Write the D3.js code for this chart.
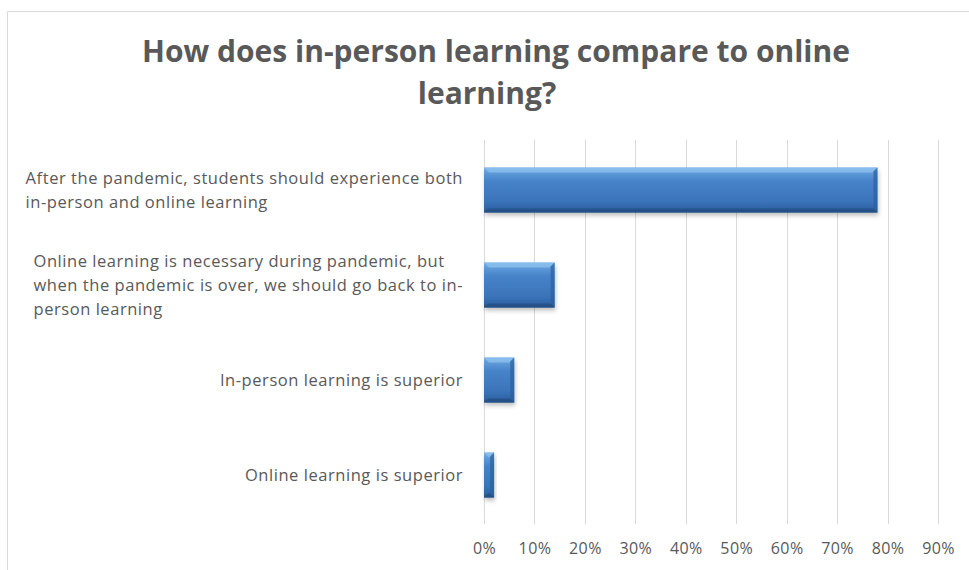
<!DOCTYPE html>
<html><head><meta charset="utf-8">
<script src="https://cdn.jsdelivr.net/npm/d3@7"></script>
<style>body{margin:0;background:#fff}svg{display:block}</style>
</head><body>
<svg id="c" width="969" height="570"></svg>
<script>
const categories = [
  ["After the pandemic, students should experience both", "in-person and online learning"],
  ["Online learning is necessary during pandemic, but", "when the pandemic is over, we should go back to in-", "person learning"],
  ["In-person learning is superior"],
  ["Online learning is superior"]
];
const values = [78, 14, 6, 2];
const tickValues = [0, 10, 20, 30, 40, 50, 60, 70, 80, 90];
const titleLines = ["How does in-person learning compare to online", "learning?"];

const svg = d3.select("#c");
const W = 969, H = 570;
const textColor = "#595959";
const font = "'Open Sans', 'Noto Sans', sans-serif";

// frame
svg.append("path").attr("d", `M7.5,${H} V11.5 H${W}`).attr("fill", "none").attr("stroke", "#d9d9d9").attr("stroke-width", 1);

const defs = svg.append("defs");
const g1 = defs.append("linearGradient").attr("id", "barG").attr("x1", 0).attr("y1", 0).attr("x2", 0).attr("y2", 1);
[[0, "#79b1e6"], [0.12, "#5f9ad9"], [0.3, "#4683c9"], [0.75, "#3b74b9"], [0.92, "#2f64a6"], [1, "#23507f"]]
  .forEach(([o, c]) => g1.append("stop").attr("offset", o).attr("stop-color", c));
const f = defs.append("filter").attr("id", "sh").attr("x", "-10%").attr("y", "-10%").attr("width", "130%").attr("height", "150%");
f.append("feDropShadow").attr("dx", 1).attr("dy", 3).attr("stdDeviation", 2).attr("flood-color", "#000").attr("flood-opacity", 0.25);

const x = d3.scaleLinear().domain([0, 90]).range([484, 938]);
const y = d3.scaleBand().domain(d3.range(categories.length)).range([142.5, 522.5]).paddingInner(0.526).paddingOuter(0.263);

// gridlines
svg.append("g").selectAll("line").data(tickValues).join("line")
  .attr("x1", d => Math.round(x(d)) + 0.5).attr("x2", d => Math.round(x(d)) + 0.5)
  .attr("y1", 140).attr("y2", 524)
  .attr("stroke", "#d9d9d9").attr("stroke-width", 1);

// x axis labels
const xa = svg.append("g").attr("transform", "translate(0,524)")
  .call(d3.axisBottom(x).tickValues(tickValues).tickFormat(d => d + "%").tickSize(0).tickPadding(19));
xa.select(".domain").remove();
xa.selectAll("text").attr("fill", textColor).style("font-family", font).style("font-size", "16px").style("letter-spacing", "0.4px");

// bars
const bars = svg.append("g").selectAll("g").data(values).join("g")
  .attr("transform", (d, i) => `translate(${x(0)},${y(i)})`);
bars.append("rect").attr("width", d => x(d) - x(0)).attr("height", y.bandwidth())
  .attr("fill", "url(#barG)").attr("filter", "url(#sh)");
// top bevel highlight
bars.append("path").attr("d", d => {
  const w = x(d) - x(0), b = Math.min(5, w / 2);
  return `M0,0 H${w} L${w - b},${b} H${b} Z`;
}).attr("fill", "#8cc0ee").attr("opacity", 0.8);
// side bevels
bars.append("path").attr("d", d => {
  const w = x(d) - x(0), h = y.bandwidth(), b = Math.min(4, w / 2);
  return `M${w},0 V${h} L${w - b},${h - b} V${b} Z`;
}).attr("fill", "#2c5f9c").attr("opacity", 0.7);
bars.append("path").attr("d", d => {
  const w = x(d) - x(0), h = y.bandwidth(), b = Math.min(4, w / 2);
  return `M0,${h} H${w} L${w - b},${h - b} H${b} Z`;
}).attr("fill", "#234f85").attr("opacity", 0.8);

// category labels
const labelRight = 463;
const labelSize = 16.5;
const lineH = 24;
const lg = svg.append("g");
categories.forEach((lines, i) => {
  const cy = y(i) + y.bandwidth() / 2;
  const t = lg.append("text").attr("fill", textColor).style("font-family", font)
    .style("font-size", labelSize + "px").style("letter-spacing", "0.55px");
  const y0 = cy - (lines.length - 1) * lineH / 2;
  const spans = lines.map((ln, k) => t.append("tspan").attr("y", y0 + k * lineH).attr("dy", "0.35em").text(ln));
  let maxW = 0;
  spans.forEach(s => { maxW = Math.max(maxW, s.node().getComputedTextLength()); });
  spans.forEach(s => s.attr("x", labelRight - maxW));
});

// title
const tt = svg.append("text").attr("fill", textColor).attr("text-anchor", "middle")
  .style("font-family", font).style("font-weight", "bold").style("font-size", "30px");
tt.append("tspan").attr("x", 496).attr("y", 62).text(titleLines[0]);
tt.append("tspan").attr("x", 487).attr("y", 104).text(titleLines[1]);
</script>
</body></html>
